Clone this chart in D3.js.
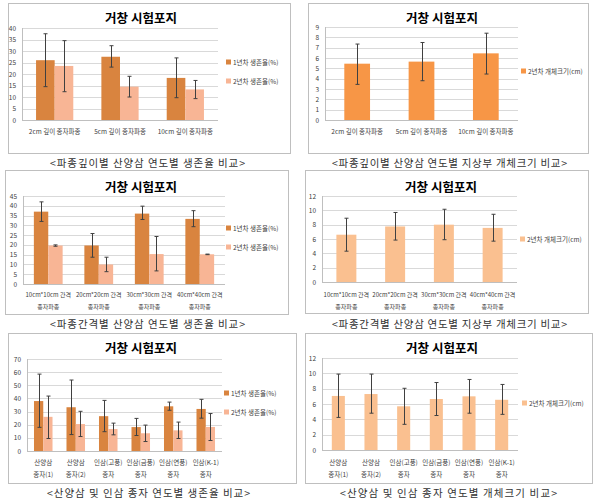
<!DOCTYPE html>
<html><head><meta charset="utf-8">
<script src="https://cdn.jsdelivr.net/npm/d3@7"></script>
<style>body{margin:0;background:#fff}svg{display:block}text{font-family:"Noto Sans CJK KR","Noto Sans",sans-serif}</style>
</head><body>
<script>
// ---- data ----
const title = "거창 시험포지";
const depthCats = ["2cm 깊이 종자파종","5cm 깊이 종자파종","10cm 깊이 종자파종"];
const depthSurv1 = [26, 27.5, 18.3];
const depthSurv1Lo = [14.5, 23, 9.7];
const depthSurv1Hi = [37.5, 32.3, 27];
const depthSurv2 = [23.5, 14.5, 13.3];
const depthSurv2Lo = [12.3, 10, 9.3];
const depthSurv2Hi = [34.5, 19, 17.2];
const depthSize = [5.45, 5.65, 6.45];
const depthSizeLo = [3.45, 3.8, 4.45];
const depthSizeHi = [7.35, 7.5, 8.4];

const spaceCats = [["10cm*10cm 간격","종자파종"],["20cm*20cm 간격","종자파종"],["30cm*30cm 간격","종자파종"],["40cm*40cm 간격","종자파종"]];
const spaceSurv1 = [37, 19.7, 36, 33.3];
const spaceSurv1Lo = [32, 13.7, 33, 29.3];
const spaceSurv1Hi = [42, 25.8, 39.8, 37.5];
const spaceSurv2 = [19.7, 10, 15.3, 15.2];
const spaceSurv2Lo = [19.3, 6.3, 6.7, 15];
const spaceSurv2Hi = [20, 13.7, 24.3, 15.3];
const spaceSize = [6.6, 7.75, 8.0, 7.55];
const spaceSizeLo = [4.3, 5.85, 5.9, 5.7];
const spaceSizeHi = [8.9, 9.7, 10.15, 9.45];

const seedCats = [["산양삼","종자(1)"],["산양삼","종자(2)"],["인삼(고풍)","종자"],["인삼(금풍)","종자"],["인삼(연풍)","종자"],["인삼(K-1)","종자"]];
const seedSurv1 = [38, 33.3, 26.5, 18.2, 34, 32];
const seedSurv1Lo = [18, 12.5, 14.7, 11.8, 31, 25];
const seedSurv1Hi = [58.5, 54, 38.5, 24.8, 37.2, 39.3];
const seedSurv2 = [26, 20.5, 16.7, 13.5, 15.7, 18.3];
const seedSurv2Lo = [9.5, 11, 12.3, 7.2, 9.5, 8];
const seedSurv2Hi = [41.8, 30.2, 21.2, 19.7, 22, 28.5];
const seedSize = [7.05, 7.3, 5.7, 6.65, 7.0, 6.55];
const seedSizeLo = [4.25, 4.8, 3.35, 4.5, 4.8, 4.65];
const seedSizeHi = [9.9, 9.9, 8.05, 8.8, 9.2, 8.55];

const surv1Label = "1년차 생존율(%)";
const surv2Label = "2년차 생존율(%)";
const sizeLabel = "2년차 개체크기(cm)";

const ticks40 = d3.range(0, 41, 5);
const ticks9 = d3.range(0, 10, 1);
const ticks45 = d3.range(0, 46, 5);
const ticks12 = d3.range(0, 13, 2);
const ticks70 = d3.range(0, 71, 10);

const captions = [
  "<파종깊이별 산양삼 연도별 생존율 비교>",
  "<파종깊이별 산양삼 연도별 지상부 개체크기 비교>",
  "<파종간격별 산양삼 연도별 생존율 비교>",
  "<파종간격별 산양삼 연도별 지상부 개체크기 비교>",
  "<산양삼 및 인삼 종자 연도별 생존율 비교>",
  "<산양삼 및 인삼 종자 연도별 개체크기 비교>"
];

const C_DARK = "#D9843F", C_LIGHT = "#F8B595", C_ORANGE = "#F79646", C_PEACH = "#FAC090";

const svg = d3.select("body").append("svg").attr("width", 600).attr("height", 503);

function panel(o) {
  const g = svg.append("g");
  g.append("rect").attr("x", o.frame[0]+0.5).attr("y", o.frame[1]+0.5)
    .attr("width", o.frame[2]-o.frame[0]).attr("height", o.frame[3]-o.frame[1])
    .attr("fill", "#fff").attr("stroke", "#BFBFBF").attr("stroke-width", 1);
  g.append("text").attr("x", o.titleX).attr("y", o.titleY).attr("text-anchor", "middle")
    .attr("dominant-baseline", "central").attr("font-size", 12.5).attr("font-weight", "bold")
    .attr("fill", "#000").text(title);
  const x = d3.scaleBand().domain(d3.range(o.cats.length)).range([o.left, o.right])
    .paddingInner(o.pad).paddingOuter(o.pad/2);
  const y = d3.scaleLinear().domain([0, o.max]).range([o.bottom, o.top]);
  g.selectAll(".grid").data(o.ticks).join("line")
    .attr("x1", o.left).attr("x2", o.right)
    .attr("y1", d => Math.round(y(d))+0.5).attr("y2", d => Math.round(y(d))+0.5)
    .attr("stroke", d => d === 0 ? "#BFBFBF" : "#D9D9D9").attr("stroke-width", 1);
  g.append("line").attr("x1", o.left+0.5).attr("x2", o.left+0.5).attr("y1", y(o.max)).attr("y2", o.bottom)
    .attr("stroke", "#BFBFBF");
  const yAxis = d3.axisLeft(y).tickValues(o.ticks).tickSize(0).tickPadding(6);
  const ya = g.append("g").attr("transform", `translate(${o.left},0)`).call(yAxis);
  ya.select(".domain").remove();
  ya.selectAll("text").attr("font-size", 6.5).attr("fill", "#404040")
    .style("font-family", "'Noto Sans CJK KR', sans-serif");
  const n = o.series.length;
  const bw = x.bandwidth() / n;
  o.series.forEach((s, si) => {
    const bars = g.append("g");
    bars.selectAll("rect").data(s.values).join("rect")
      .attr("x", (d, i) => x(i) + si*bw).attr("width", bw)
      .attr("y", d => y(d)).attr("height", d => y(0) - y(d))
      .attr("fill", s.color);
    const eg = g.append("g").attr("stroke", "#404040").attr("stroke-width", 1);
    s.values.forEach((v, i) => {
      const cx = Math.round(x(i) + si*bw + bw/2) + 0.5;
      eg.append("line").attr("x1", cx).attr("x2", cx).attr("y1", y(s.hi[i])).attr("y2", y(s.lo[i]));
      eg.append("line").attr("x1", cx-2).attr("x2", cx+2).attr("y1", y(s.hi[i])).attr("y2", y(s.hi[i]));
      eg.append("line").attr("x1", cx-2).attr("x2", cx+2).attr("y1", y(s.lo[i])).attr("y2", y(s.lo[i]));
    });
    g.append("rect").attr("x", o.legX).attr("y", o.legY[si]-2.5).attr("width", 5).attr("height", 5).attr("fill", s.color);
    g.append("text").attr("x", o.legX+7).attr("y", o.legY[si]).attr("dominant-baseline", "central")
      .attr("font-size", 6.5).attr("fill", "#404040").text(s.label);
  });
  o.cats.forEach((c, i) => {
    const lines = Array.isArray(c) ? c : [c];
    lines.forEach((t, li) => {
      g.append("text").attr("x", x(i) + x.bandwidth()/2).attr("y", o.labY[li])
        .attr("text-anchor", "middle").attr("dominant-baseline", "central")
        .attr("font-size", o.labSize || 6.5).attr("fill", "#404040").text(t);
    });
  });
  g.append("text").attr("x", o.cap[0]).attr("y", o.capY).attr("dominant-baseline", "central")
    .attr("font-size", 10.5).attr("fill", "#333").attr("textLength", o.cap[1]-o.cap[0])
    .attr("lengthAdjust", "spacing").text(o.caption);
}

panel({frame:[8,3,290,153], titleX:141, titleY:17, left:22, right:218, top:28, bottom:120, max:40, ticks:ticks40, pad:0.43,
  cats:depthCats, labY:[131], legX:226, legY:[62,81], cap:[50,245], capY:162, caption:captions[0],
  series:[{values:depthSurv1, lo:depthSurv1Lo, hi:depthSurv1Hi, color:C_DARK, label:surv1Label},
          {values:depthSurv2, lo:depthSurv2Lo, hi:depthSurv2Hi, color:C_LIGHT, label:surv2Label}]});
panel({frame:[308,3,588,153], titleX:442, titleY:17, left:325, right:518, top:27, bottom:120, max:9, ticks:ticks9, pad:0.6,
  cats:depthCats, labY:[131], legX:521, legY:[71], cap:[332,567], capY:162, caption:captions[1],
  series:[{values:depthSize, lo:depthSizeLo, hi:depthSizeHi, color:C_ORANGE, label:sizeLabel}]});
panel({frame:[5,170,288,314], titleX:141, titleY:186, left:23, right:225, top:196, bottom:284, max:45, ticks:ticks45, pad:0.43,
  cats:spaceCats, labY:[294,306], labSize:6, legX:226, legY:[228,247], cap:[50,245], capY:323, caption:captions[2],
  series:[{values:spaceSurv1, lo:spaceSurv1Lo, hi:spaceSurv1Hi, color:C_DARK, label:surv1Label},
          {values:spaceSurv2, lo:spaceSurv2Lo, hi:spaceSurv2Hi, color:C_LIGHT, label:surv2Label}]});
panel({frame:[305,170,588,313], titleX:441, titleY:186, left:322, right:517, top:196, bottom:282, max:12, ticks:ticks12, pad:0.59,
  cats:spaceCats, labY:[294,306], labSize:6, legX:520, legY:[239], cap:[332,567], capY:323, caption:captions[3],
  series:[{values:spaceSize, lo:spaceSizeLo, hi:spaceSizeHi, color:C_PEACH, label:sizeLabel}]});
panel({frame:[8,333,296,483], titleX:141, titleY:347, left:27, right:222, top:359, bottom:451, max:70, ticks:ticks70, pad:0.43,
  cats:seedCats, labY:[462,474], legX:224, legY:[393,412], cap:[47,250], capY:492, caption:captions[4],
  series:[{values:seedSurv1, lo:seedSurv1Lo, hi:seedSurv1Hi, color:C_DARK, label:surv1Label},
          {values:seedSurv2, lo:seedSurv2Lo, hi:seedSurv2Hi, color:C_LIGHT, label:surv2Label}]});
panel({frame:[305,333,592,483], titleX:442, titleY:347, left:322, right:518, top:358, bottom:450, max:12, ticks:ticks12, pad:0.6,
  cats:seedCats, labY:[462,474], legX:522, legY:[403], cap:[340,557], capY:492, caption:captions[5],
  series:[{values:seedSize, lo:seedSizeLo, hi:seedSizeHi, color:C_PEACH, label:sizeLabel}]});
</script>
</body></html>
